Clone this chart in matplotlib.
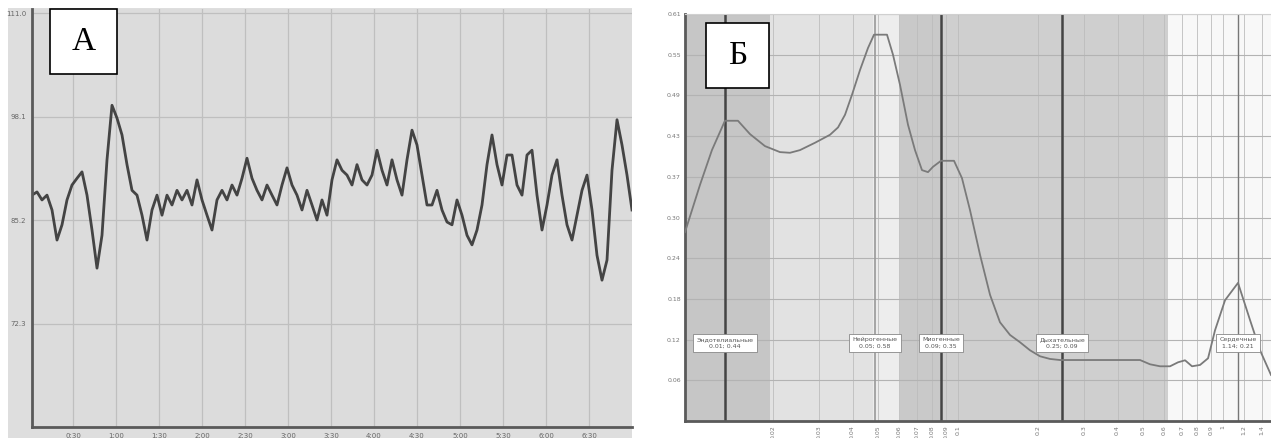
import numpy as np
import matplotlib.pyplot as plt
from matplotlib.patches import Rectangle
from matplotlib.ticker import FixedLocator, NullLocator, FixedFormatter

# panel A: perfusion trace, values at even steps in time
trace_a = [
    88.3, 88.7, 87.7, 88.3, 86.45, 82.7, 84.6, 87.7, 89.56, 90.4,
    91.2, 88.3, 83.95, 79.2, 83.3, 92.7, 99.5, 97.9, 95.8, 92.1,
    88.9, 88.3, 85.8, 82.7, 86.45, 88.3, 85.8, 88.3, 87.07, 88.9,
    87.7, 88.9, 87.07, 90.2, 87.7, 85.8, 83.95, 87.7, 88.9, 87.7,
    89.56, 88.3, 90.4, 92.9, 90.4, 88.9, 87.7, 89.56, 88.3, 87.07,
    89.56, 91.7, 89.56, 88.3, 86.45, 88.9, 87.07, 85.2, 87.7, 85.8,
    90.2, 92.7, 91.4, 90.8, 89.56, 92.1, 90.2, 89.56, 90.8, 93.9,
    91.4, 89.56, 92.7, 90.2, 88.3, 92.7, 96.4, 94.55, 90.8, 87.07,
    87.07, 88.9, 86.45, 84.95, 84.6, 87.7, 85.8, 83.3, 82.1, 83.95,
    87.07, 92.1, 95.8, 92.1, 89.56, 93.3, 93.3, 89.56, 88.3, 93.3,
    93.9, 88.3, 83.95, 87.07, 90.8, 92.7, 88.3, 84.6, 82.7, 85.8,
    88.9, 90.8, 86.45, 80.8, 77.7, 80.2, 91.4, 97.7, 94.55, 90.8,
    86.45,
]
t_start, t_end = 1.4, 420.0
a_yticks = [111.0, 98.1, 85.2, 72.3]
a_xticks = [30, 60, 90, 120, 150, 180, 210, 240, 270, 300, 330, 360, 390]
a_xlabels = ["0:30", "1:00", "1:30", "2:00", "2:30", "3:00", "3:30",
             "4:00", "4:30", "5:00", "5:30", "6:00", "6:30"]

# panel B: wavelet amplitude spectrum
freq_b = [0.00933, 0.01063, 0.01179, 0.0132, 0.01478, 0.01641, 0.01869, 0.0213,
          0.02323, 0.02533, 0.02886, 0.03289, 0.03526, 0.03747, 0.03981, 0.04268,
          0.04574, 0.0482, 0.05396, 0.05684, 0.0604, 0.06476, 0.06882, 0.07313,
          0.07704, 0.08048, 0.08625, 0.09658, 0.1035, 0.111, 0.1211, 0.1321,
          0.144, 0.1571, 0.1714, 0.1869, 0.2039, 0.2224, 0.2426, 0.3435,
          0.4862, 0.5303, 0.5785, 0.631, 0.6766, 0.7189, 0.7638, 0.8189,
          0.8779, 0.9328, 1.0175, 1.139, 1.265, 1.379, 1.517]
amp_b = [0.283, 0.354, 0.406, 0.45, 0.45, 0.43, 0.412, 0.403,
         0.402, 0.406, 0.417, 0.429, 0.44, 0.459, 0.489, 0.526,
         0.559, 0.579, 0.579, 0.549, 0.504, 0.444, 0.406, 0.376,
         0.373, 0.381, 0.39, 0.39, 0.364, 0.316, 0.249, 0.189,
         0.148, 0.129, 0.118, 0.106, 0.097, 0.093, 0.0914, 0.0914,
         0.0914, 0.085, 0.082, 0.082, 0.088, 0.091, 0.082, 0.084,
         0.094, 0.136, 0.181, 0.207, 0.151, 0.106, 0.069]
band_edges = [0.00933, 0.0195, 0.0478, 0.0604, 0.0855, 0.62, 1.517]
band_colors = ["#c6c6c6", "#e2e2e2", "#ededed", "#c9c9c9", "#cfcfcf", "#f8f8f8"]
peak_names = ["Эндотелиальные", "Нейрогенные", "Миогенные", "Дыхательные", "Сердечные"]
peak_freq = [0.0132, 0.0486, 0.0863, 0.247, 1.139]
peak_amp = [0.44, 0.58, 0.35, 0.09, 0.21]
b_yticks = [0.061 * k for k in range(1, 11)]
b_xticks = [0.02, 0.03, 0.04, 0.05, 0.06, 0.07, 0.08, 0.09, 0.1,
            0.2, 0.3, 0.4, 0.5, 0.6, 0.7, 0.8, 0.9, 1.0, 1.2, 1.4]

W, H = 1271, 438


def fig_rect(x0, y0, x1, y1):
    """pixel box (top-left origin) -> figure fraction [l, b, w, h]"""
    return [x0 / W, (H - y1) / H, (x1 - x0) / W, (y1 - y0) / H]


def letter_box(fig, box, letter):
    l, b, w, h = fig_rect(*box)
    fig.add_artist(Rectangle((l, b), w, h, transform=fig.transFigure,
                             facecolor="white", edgecolor="black", lw=1.2, zorder=5))
    fig.text(l + w / 2, b + h / 2, letter, ha="center", va="center",
             family="Liberation Serif", fontsize=24, zorder=6)


def plot_trace(fig):
    l, b, w, h = fig_rect(8, 8, 632, 438)
    fig.add_artist(Rectangle((l, b), w, h, transform=fig.transFigure,
                             facecolor="#dedede", edgecolor="none", zorder=-1))
    ax = fig.add_axes(fig_rect(32, 9, 632, 427))
    ax.set_facecolor("#dcdcdc")
    t = np.linspace(t_start, t_end, len(trace_a))
    ax.plot(t, trace_a, color="#333333", lw=2.0, alpha=0.9)
    ax.set_xlim(t_start, t_end)
    ax.set_ylim(59.4, 111.5)
    ax.set_yticks(a_yticks)
    ax.set_yticklabels([f"{v:.1f}" for v in a_yticks])
    ax.set_xticks(a_xticks)
    ax.set_xticklabels(a_xlabels)
    ax.grid(True, color="#bfbfbf", lw=0.9)
    ax.tick_params(length=0, labelsize=5, colors="#666666", pad=4)
    for side in ("top", "right"):
        ax.spines[side].set_visible(False)
    for side in ("left", "bottom"):
        ax.spines[side].set_color("#5a5a5a")
        ax.spines[side].set_linewidth(2)


def plot_spectrum(fig):
    ax = fig.add_axes(fig_rect(685, 14, 1271, 421))
    ax.set_xscale("log")
    for i, c in enumerate(band_colors):
        ax.axvspan(band_edges[i], band_edges[i + 1], color=c, lw=0, zorder=0)
    ax.set_xlim(band_edges[0], band_edges[-1])
    ax.set_ylim(0, 0.61)

    ax.xaxis.set_major_locator(FixedLocator(b_xticks))
    ax.xaxis.set_major_formatter(FixedFormatter([f"{v:g}" for v in b_xticks]))
    ax.xaxis.set_minor_locator(NullLocator())
    ax.set_yticks(b_yticks)
    ax.set_yticklabels([f"{v:.2f}" for v in b_yticks])
    ax.grid(True, axis="y", color="#b3b3b3", lw=0.8, zorder=1)
    ax.grid(True, axis="x", color="#bdbdbd", lw=0.6, zorder=1)
    ax.set_axisbelow(True)
    ax.tick_params(length=0, labelsize=4.5, colors="#777777", pad=3)
    ax.tick_params(axis="x", labelrotation=90)

    styles = [("#444444", 1.8), ("#9a9a9a", 1.2), ("#444444", 1.8),
              ("#444444", 1.8), ("#777777", 1.0)]
    for f, (c, lw) in zip(peak_freq, styles):
        ax.axvline(f, color=c, lw=lw, zorder=2)

    ax.plot(freq_b, amp_b, color="#7a7a7a", lw=1.3, zorder=3)

    for name, f, a in zip(peak_names, peak_freq, peak_amp):
        ax.text(f, 0.117, f"{name}\n{f:.2f}; {a:.2f}", ha="center", va="center",
                fontsize=4.5, color="#555555", zorder=4, linespacing=1.5,
                bbox=dict(boxstyle="square,pad=0.5", fc="white", ec="#888888", lw=0.6))

    ax.spines["right"].set_visible(False)
    ax.spines["top"].set_color("#d0d0d0")
    for side in ("left", "bottom"):
        ax.spines[side].set_color("#5a5a5a")
        ax.spines[side].set_linewidth(2)


if __name__ == "__main__":
    fig = plt.figure(figsize=(W / 100, H / 100), dpi=100)
    plot_trace(fig)
    plot_spectrum(fig)
    letter_box(fig, (50, 9, 117, 74), "A")
    letter_box(fig, (706, 23, 769, 88), "Б")
    fig.savefig("out.png", dpi=100)
